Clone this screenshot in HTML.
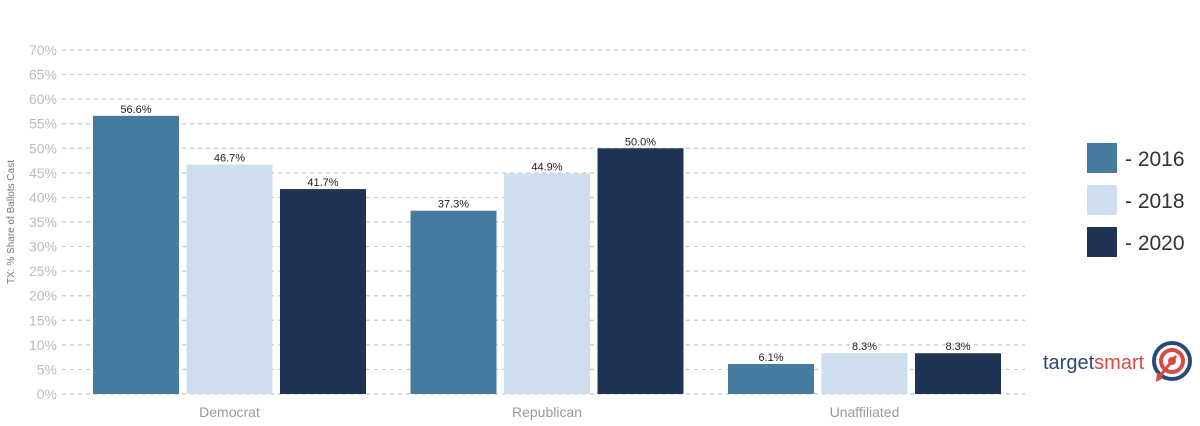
<!DOCTYPE html>
<html><head><meta charset="utf-8">
<style>
html,body{margin:0;padding:0;background:#fff;}
svg{display:block;font-family:"Liberation Sans",sans-serif;}
</style></head>
<body>
<svg id="chart" width="1200" height="426" viewBox="0 0 1200 426">
  <g id="grid"></g>
  <g id="yticks"></g>
  <g id="bars"></g>
  <g id="xlabels"></g>
  <text x="14" y="222" transform="rotate(-90 14 222)" text-anchor="middle" font-size="10" fill="#777">TX: % Share of Ballots Cast</text>
  <g id="legend"></g>
  <g>
    <text x="1043" y="369" font-size="20"><tspan fill="#2b4a78">target</tspan><tspan fill="#d64b43">smart</tspan></text>
    <circle cx="1172" cy="361" r="18" fill="none" stroke="#2b4a78" stroke-width="4"/>
    <circle cx="1172" cy="361" r="11" fill="none" stroke="#d64b43" stroke-width="4"/>
    <circle cx="1172" cy="361" r="4" fill="#d64b43"/>
    <line x1="1176" y1="356" x2="1160" y2="376" stroke="#d64b43" stroke-width="3"/>
    <path d="M1157 372 L1163 378 L1156 382 Z" fill="#d64b43"/>
  </g>
</svg>
<script>
const categories = ["Democrat","Republican","Unaffiliated"];
const years = ["2016","2018","2020"];
const values2016 = [56.6, 37.3, 6.1];
const values2018 = [46.7, 44.9, 8.3];
const values2020 = [41.7, 50.0, 8.3];
const yTicks = [0,5,10,15,20,25,30,35,40,45,50,55,60,65,70];
const colors = ["#467a9e","#cedeec","#1f3354"];

const NS = "http://www.w3.org/2000/svg";
const y0 = 394, y70 = 50;
function yScale(v){ return y0 - v*(y0-y70)/70; }
const groupStart = 93, groupStep = 317.5, barW = 86, barStep = 93.5;
function xBar(ci, si){ return groupStart + ci*groupStep + si*barStep; }
function mk(tag, attrs, parent){ const e=document.createElementNS(NS,tag); for(const k in attrs) e.setAttribute(k,attrs[k]); parent.appendChild(e); return e; }

const grid=document.getElementById('grid'), yt=document.getElementById('yticks');
yTicks.forEach(t=>{
  const y=yScale(t);
  const l=mk('line',{x1:62,x2:1025,y1:y,y2:y,stroke:'#c8c8c8','stroke-width':1.2,'stroke-dasharray':'4 4'},grid);
  
  
  const tx=mk('text',{x:57,y:y+5,'text-anchor':'end','font-size':14,fill:'#bbb'},yt);
  tx.textContent=t+'%';
  
  
});

const bars=document.getElementById('bars');
const series=[values2016,values2018,values2020];
categories.forEach((c,ci)=>{
  series.forEach((s,si)=>{
    const v=s[ci], x=xBar(ci,si), y=yScale(v);
    const r=mk('rect',{x:x,y:y,width:barW,height:y0-y,fill:colors[si]},bars);
    
    
    const t=mk('text',{x:x+barW/2,y:y-3,'text-anchor':'middle','font-size':11,fill:'#222'},bars);
    t.textContent=v.toFixed(1)+'%';
    
    
  });
  const xl=mk('text',{x:xBar(ci,1)+barW/2,y:417,'text-anchor':'middle','font-size':14,fill:'#999'},document.getElementById('xlabels'));
  xl.textContent=c;
  
  
});

const lg=document.getElementById('legend');
years.forEach((yr,i)=>{
  const y=143+i*42;
  const r=mk('rect',{x:1087,y:y,width:30,height:30,fill:colors[i]},lg);
  
  
  const t=mk('text',{x:1125,y:y+23,'font-size':21,fill:'#333'},lg);
  t.textContent='- '+yr;
  
  
});
</script>
</body></html>
